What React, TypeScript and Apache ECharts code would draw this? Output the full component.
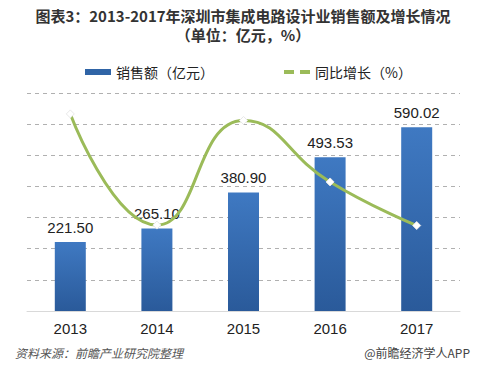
import React, { useEffect, useRef } from "react";
import * as echarts from "echarts";

const years = ["2013", "2014", "2015", "2016", "2017"];
const sales = [221.5, 265.1, 380.9, 493.53, 590.02];
const growth = [45.2, 19.7, 43.7, 29.6, 19.6];
const salesName = "销售额（亿元）";
const growthName = "同比增长（%）";
const titleLine1 = "图表3：2013-2017年深圳市集成电路设计业销售额及增长情况";
const titleLine2 = "（单位：亿元，%）";

export default function App() {
  const ref = useRef<HTMLDivElement>(null);
  useEffect(() => {
    if (!ref.current) return;
    const chart = echarts.init(ref.current, undefined, { renderer: "svg" });
    const font = "Liberation Sans, Arial, Noto Sans CJK SC, sans-serif";
    const cjk = "Noto Sans CJK SC, sans-serif";
    chart.setOption({
      animation: false,
      backgroundColor: "#fff",
      textStyle: { fontFamily: font },
      legend: {
        left: 80,
        top: 60,
        itemGap: 70,
        textStyle: { fontSize: 14, color: "#222", fontFamily: cjk },
        data: [
          { name: salesName, icon: "rect", itemStyle: { color: "#2f64a6" } },
          {
            name: growthName,
            icon: "path://M0,0 L10,0 L10,4 L0,4 Z M16,0 L26,0 L26,4 L16,4 Z",
            itemStyle: { color: "#9bbb59", borderWidth: 0 },
          },
        ],
        itemWidth: 26,
        itemHeight: 6,
      },
      grid: { left: 27, right: 18, top: 93, bottom: 58 },
      xAxis: {
        type: "category",
        data: years,
        axisLine: { lineStyle: { color: "#d9d9d9" } },
        axisTick: { show: false },
        axisLabel: { fontSize: 15, color: "#222", margin: 10 },
      },
      yAxis: [
        {
          type: "value",
          min: 0,
          max: 700,
          interval: 100,
          axisLabel: { show: false },
          axisLine: { show: false },
          axisTick: { show: false },
          splitLine: { lineStyle: { type: [4, 4], color: "#b0b0b0" } },
        },
        {
          type: "value",
          min: 0,
          max: 50,
          show: false,
          splitLine: { show: false },
        },
      ],
      series: [
        {
          name: salesName,
          type: "bar",
          data: sales,
          barWidth: 31,
          itemStyle: {
            color: new echarts.graphic.LinearGradient(0, 0, 0, 1, [
              { offset: 0, color: "#3f79c2" },
              { offset: 1, color: "#2a5a9a" },
            ]),
          },
          label: {
            show: true,
            position: "top",
            distance: 7,
            fontSize: 15,
            color: "#222",
            formatter: (p: any) => p.value.toFixed(2),
          },
          z: 2,
        },
        {
          name: growthName,
          type: "line",
          yAxisIndex: 1,
          data: growth,
          smooth: 0.5,
          symbol: "diamond",
          symbolSize: 8,
          showSymbol: true,
          lineStyle: { color: "#9bbb59", width: 3 },
          itemStyle: { color: "#ffffff", borderColor: "#e8e8e8", borderWidth: 1 },
          z: 3,
        },
      ],
      graphic: [
        {
          type: "text",
          x: 243,
          y: 15,
          style: {
            text: titleLine1,
            fontSize: 15,
            fontWeight: "bold",
            fill: "#333",
            fontFamily: cjk,
            textAlign: "center",
            textVerticalAlign: "middle",
          },
        },
        {
          type: "text",
          x: 243,
          y: 34,
          style: {
            text: titleLine2,
            fontSize: 15,
            fontWeight: "bold",
            fill: "#333",
            fontFamily: cjk,
            textAlign: "center",
            textVerticalAlign: "middle",
          },
        },
        {
          type: "text",
          left: 15,
          top: 346,
          style: {
            text: "资料来源：前瞻产业研究院整理",
            fontSize: 12,
            fontStyle: "italic",
            fill: "#555",
            fontFamily: cjk,
          },
        },
        {
          type: "text",
          right: 8,
          top: 346,
          style: {
            text: "@前瞻经济学人APP",
            fontSize: 12,
            fill: "#444",
            fontFamily: cjk,
          },
        },
      ],
    });
    return () => chart.dispose();
  }, []);
  return (
    <div
      ref={ref}
      style={{ position: "fixed", left: 0, top: 0, width: 478, height: 369 }}
    />
  );
}
